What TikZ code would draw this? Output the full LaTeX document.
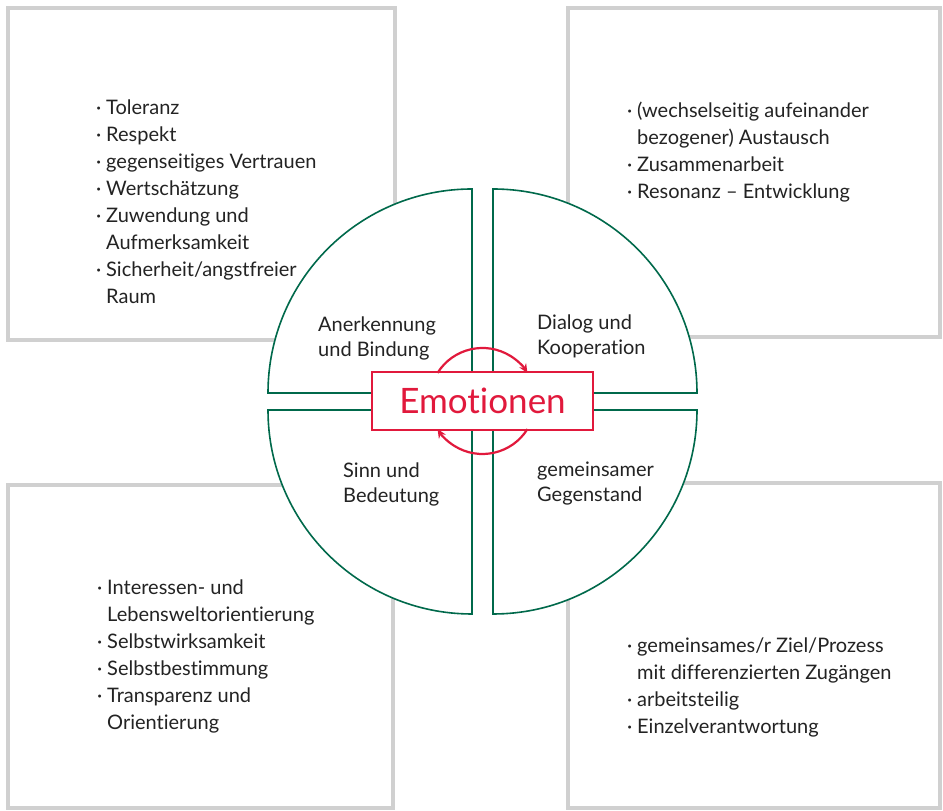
\documentclass[tikz,border=0pt]{standalone}
\usepackage{fontspec}
\setmainfont{Lato}[Ligatures=NoCommon]
\usepackage{xcolor}
\usepackage{tikz}
\usetikzlibrary{positioning,calc,arrows.meta}

\definecolor{gruen}{RGB}{0,105,75}
\definecolor{rot}{RGB}{225,25,60}
\definecolor{rahmen}{RGB}{208,208,208}
\definecolor{schrift}{RGB}{35,35,35}

\newcommand{\punkt}{\llap{·\hspace{5pt}}}

\tikzset{
	kasten/.style={draw=rahmen, line width=4pt, fill=white},
	viertel/.style={draw=gruen, line width=1.6pt, fill=white},
	liste/.style={align=left, anchor=north west, inner sep=0pt, text=schrift, font=\fontsize{20}{27}\selectfont},
	feld/.style={align=left, anchor=north west, inner sep=0pt, text=schrift, font=\fontsize{20}{25}\selectfont},
	kreislauf/.style={draw=rot, line width=2.2pt, -{Stealth[length=9pt,width=8pt]}}
}

\begin{document}
\begin{tikzpicture}[x=1pt,y=1pt]
		\useasboundingbox (0,0) rectangle (943,811);
		
		\draw[kasten] (8,471) rectangle (395,803);
		\draw[kasten] (568,474) rectangle (940,803);
		\draw[kasten] (8,3) rectangle (393,326);
		\draw[kasten] (568,3) rectangle (940,328);
		
		\node[liste] (werte) at (106,711) {\punkt Toleranz\\ \punkt Respekt\\ \punkt gegenseitiges Vertrauen\\ \punkt Wertschätzung\\ \punkt Zuwendung und\\ Aufmerksamkeit\\ \punkt Sicherheit/angstfreier\\ Raum};
		\node[liste] (austausch) at (637,709) {\punkt (wechselseitig aufeinander\\ bezogener) Austausch\\ \punkt Zusammenarbeit\\ \punkt Resonanz -- Entwicklung};
		\node[liste] (interessen) at (107,231) {\punkt Interessen- und\\ Lebensweltorientierung\\ \punkt Selbstwirksamkeit\\ \punkt Selbstbestimmung\\ \punkt Transparenz und\\ Orientierung};
		\node[liste] (ziel) at (637,173) {\punkt gemeinsames/r Ziel/Prozess\\ mit differenzierten Zugängen\\ \punkt arbeitsteilig\\ \punkt Einzelverantwortung};
		
		% Kreis aus vier Vierteln
		\draw[viertel] (472,418) -- (268,418) arc[start angle=180, end angle=90, radius=204] -- cycle;
		\draw[viertel] (493,418) -- (493,622) arc[start angle=90, end angle=0, radius=204] -- cycle;
		\draw[viertel] (493,401) -- (697,401) arc[start angle=0, end angle=-90, radius=204] -- cycle;
		\draw[viertel] (472,401) -- (472,197) arc[start angle=-90, end angle=-180, radius=204] -- cycle;
		
		\node[feld] (bindung) at (318,494) {Anerkennung\\und Bindung};
		\node[feld] (dialog) at (537,496) {Dialog und\\Kooperation};
		\node[feld] (sinn) at (343,348) {Sinn und\\Bedeutung};
		\node[feld] (gegenstand) at (537,349) {gemeinsamer\\Gegenstand};
		
		\node[draw=rot, line width=2pt, fill=white, text=rot, minimum width=221pt, minimum height=58pt, inner sep=0pt, font=\fontsize{35}{40}\selectfont] (emo) at (482.5,410) {Emotionen};
		
		\draw[kreislauf] ([shift={(148:53)}]emo.center) arc[start angle=148, end angle=32, radius=53];
		\draw[kreislauf] ([shift={(-32:53)}]emo.center) arc[start angle=-32, end angle=-148, radius=53];
	\end{tikzpicture}
\end{document}
